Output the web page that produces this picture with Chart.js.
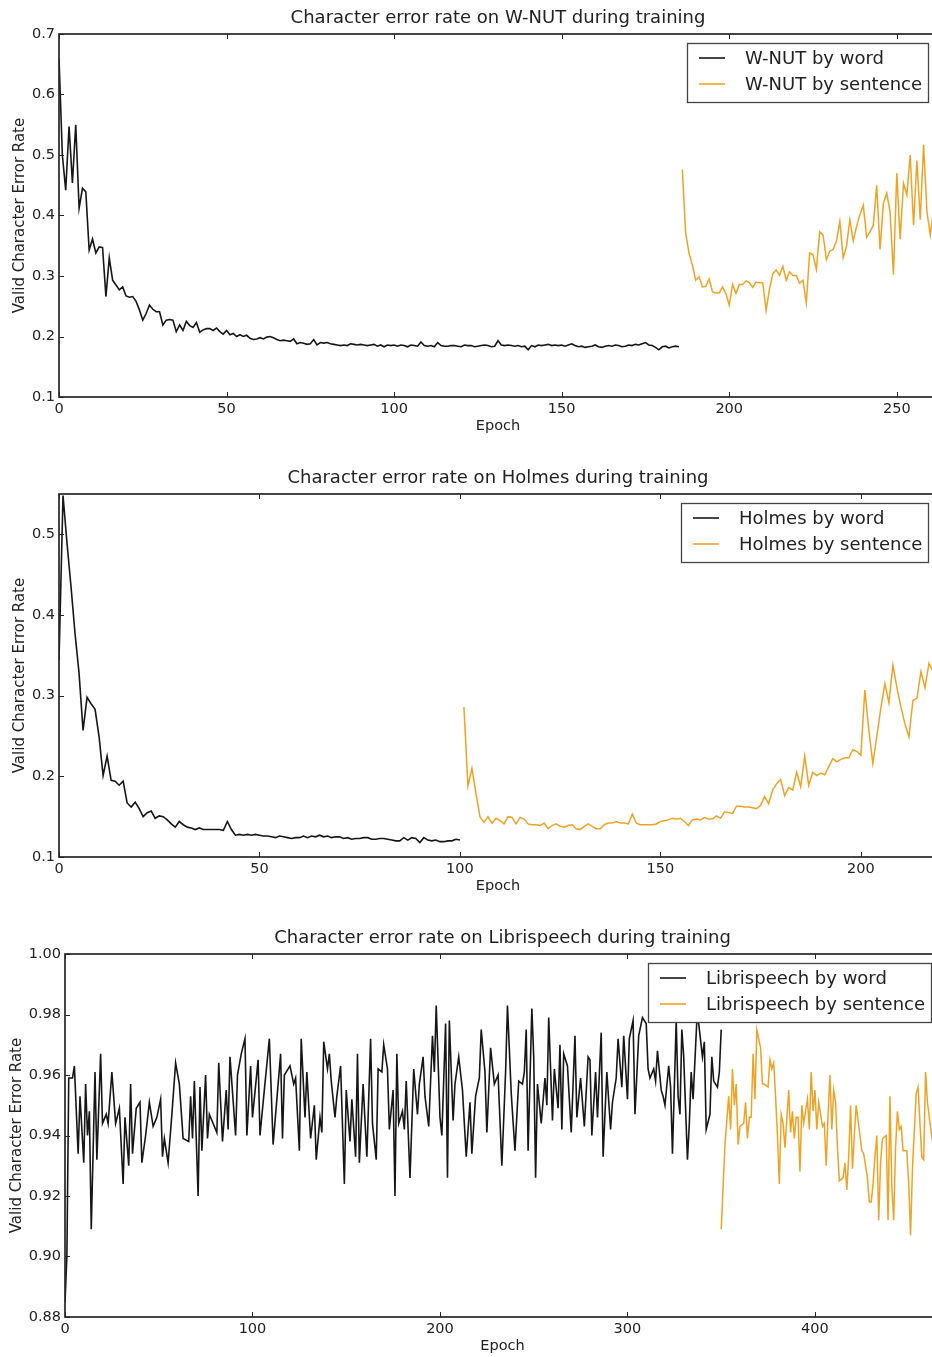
<!DOCTYPE html>
<html>
<head>
<meta charset="utf-8">
<title>Character error rate during training</title>
<script src="https://cdn.jsdelivr.net/npm/chart.js@4.4.0/dist/chart.umd.min.js"></script>
<style>
body { margin: 0; background: #fff; }
#plots { width: 932px; height: 1357px; overflow: hidden; }
canvas { display: block; }
</style>
</head>
<body>
<div id="plots">
<canvas id="wnutChart" width="1000" height="460"></canvas>
<canvas id="holmesChart" width="1000" height="460"></canvas>
<canvas id="libriChart" width="1000" height="460"></canvas>
</div>
<script>
// ---- W-NUT: validation CER per epoch ----
var wnutWordStart = 0;
var wnutWordCer = [
  0.660, 0.500, 0.442, 0.547, 0.454, 0.550, 0.412, 0.445, 0.439, 0.343,
  0.361, 0.338, 0.348, 0.347, 0.266, 0.330, 0.293, 0.285, 0.277, 0.282,
  0.267, 0.265, 0.266, 0.258, 0.244, 0.227, 0.238, 0.252, 0.245, 0.241,
  0.241, 0.219, 0.227, 0.228, 0.227, 0.208, 0.219, 0.210, 0.225, 0.218,
  0.215, 0.223, 0.207, 0.211, 0.213, 0.213, 0.210, 0.214, 0.208, 0.204,
  0.210, 0.203, 0.205, 0.200, 0.203, 0.200, 0.202, 0.197, 0.195, 0.196,
  0.198, 0.196, 0.199, 0.200, 0.198, 0.195, 0.193, 0.194, 0.193, 0.192,
  0.196, 0.188, 0.190, 0.189, 0.187, 0.188, 0.195, 0.186, 0.190, 0.189,
  0.190, 0.188, 0.187, 0.186, 0.185, 0.186, 0.185, 0.188, 0.187, 0.186,
  0.187, 0.186, 0.185, 0.186, 0.187, 0.184, 0.186, 0.183, 0.186, 0.185,
  0.186, 0.184, 0.186, 0.185, 0.183, 0.186, 0.185, 0.184, 0.191, 0.185,
  0.184, 0.185, 0.183, 0.190, 0.185, 0.184, 0.184, 0.185, 0.185, 0.184,
  0.183, 0.186, 0.185, 0.185, 0.183, 0.184, 0.185, 0.186, 0.185, 0.183,
  0.184, 0.193, 0.186, 0.185, 0.186, 0.185, 0.184, 0.185, 0.183, 0.184,
  0.178, 0.185, 0.183, 0.186, 0.185, 0.186, 0.187, 0.185, 0.186, 0.185,
  0.186, 0.184, 0.186, 0.188, 0.185, 0.183, 0.184, 0.182, 0.183, 0.184,
  0.186, 0.183, 0.182, 0.184, 0.185, 0.184, 0.186, 0.185, 0.183, 0.184,
  0.186, 0.185, 0.187, 0.186, 0.188, 0.190, 0.186, 0.185, 0.182, 0.178,
  0.183, 0.184, 0.181, 0.183, 0.184, 0.183
];
var wnutSentStart = 186;
var wnutSentCer = [
  0.476, 0.371, 0.338, 0.318, 0.293, 0.299, 0.282, 0.283, 0.295, 0.274,
  0.272, 0.272, 0.282, 0.271, 0.252, 0.286, 0.271, 0.286, 0.286, 0.292,
  0.289, 0.281, 0.290, 0.289, 0.289, 0.243, 0.278, 0.304, 0.310, 0.301,
  0.316, 0.293, 0.307, 0.301, 0.301, 0.288, 0.293, 0.255, 0.338, 0.335,
  0.311, 0.373, 0.368, 0.327, 0.341, 0.344, 0.358, 0.390, 0.330, 0.349,
  0.393, 0.358, 0.382, 0.401, 0.417, 0.364, 0.373, 0.384, 0.450, 0.344,
  0.420, 0.437, 0.406, 0.302, 0.470, 0.361, 0.453, 0.434, 0.500, 0.384,
  0.491, 0.393, 0.517, 0.406, 0.368, 0.410, 0.390
];

// ---- Holmes ----
var holmesWordStart = 0;
var holmesWordCer = [
  0.344, 0.548, 0.489, 0.435, 0.377, 0.328, 0.257, 0.298, 0.290, 0.283,
  0.249, 0.201, 0.225, 0.195, 0.194, 0.189, 0.194, 0.167, 0.162, 0.168,
  0.160, 0.150, 0.155, 0.157, 0.148, 0.151, 0.150, 0.146, 0.141, 0.137,
  0.144, 0.140, 0.137, 0.136, 0.134, 0.136, 0.134, 0.134, 0.134, 0.134,
  0.134, 0.133, 0.144, 0.134, 0.127, 0.128, 0.127, 0.128, 0.127, 0.128,
  0.127, 0.126, 0.126, 0.125, 0.124, 0.126, 0.125, 0.124, 0.123, 0.124,
  0.124, 0.126, 0.124, 0.126, 0.125, 0.127, 0.125, 0.126, 0.124, 0.125,
  0.125, 0.123, 0.124, 0.122, 0.123, 0.123, 0.124, 0.124, 0.122, 0.122,
  0.123, 0.123, 0.122, 0.121, 0.120, 0.120, 0.124, 0.121, 0.124, 0.123,
  0.118, 0.124, 0.121, 0.120, 0.121, 0.119, 0.119, 0.120, 0.120, 0.122,
  0.121
];
var holmesSentStart = 101;
var holmesSentCer = [
  0.286, 0.188, 0.210, 0.179, 0.150, 0.143, 0.150, 0.142, 0.148, 0.145,
  0.141, 0.150, 0.149, 0.141, 0.149, 0.147, 0.141, 0.140, 0.140, 0.139,
  0.142, 0.135, 0.139, 0.141, 0.138, 0.137, 0.139, 0.140, 0.135, 0.134,
  0.138, 0.141, 0.138, 0.135, 0.135, 0.140, 0.142, 0.142, 0.144, 0.142,
  0.142, 0.141, 0.153, 0.142, 0.140, 0.140, 0.140, 0.140, 0.141, 0.144,
  0.145, 0.146, 0.148, 0.147, 0.148, 0.144, 0.139, 0.146, 0.147, 0.146,
  0.149, 0.147, 0.147, 0.151, 0.148, 0.156, 0.155, 0.154, 0.163, 0.163,
  0.162, 0.162, 0.161, 0.160, 0.164, 0.175, 0.166, 0.183, 0.191, 0.196,
  0.176, 0.186, 0.183, 0.205, 0.187, 0.225, 0.189, 0.205, 0.201, 0.204,
  0.202, 0.212, 0.222, 0.218, 0.221, 0.223, 0.223, 0.233, 0.231, 0.226,
  0.307, 0.257, 0.216, 0.250, 0.285, 0.315, 0.291, 0.338, 0.310, 0.286,
  0.265, 0.249, 0.294, 0.297, 0.330, 0.310, 0.340, 0.330, 0.335
];

// ---- Librispeech (epoch, CER) ----
var libriWordEpoch = [
  0, 1, 2, 4, 5, 7, 8, 10, 11, 12,
  13, 14, 16, 17, 19, 20, 22, 23, 25, 27,
  29, 31, 32, 34, 35, 36, 38, 40, 41, 43,
  45, 47, 49, 51, 52, 53, 55, 57, 59, 61,
  63, 66, 67, 68, 69, 71, 72, 73, 75, 76,
  77, 81, 82, 84, 86, 87, 88, 91, 92, 94,
  96, 97, 99, 100, 103, 104, 106, 109, 111, 115,
  116, 117, 120, 122, 123, 125, 126, 128, 129, 131,
  133, 134, 136, 137, 138, 140, 141, 142, 144, 145,
  147, 149, 150, 152, 153, 155, 156, 157, 159, 161,
  163, 164, 166, 167, 169, 170, 172, 173, 175, 176,
  177, 178, 180, 181, 182, 184, 186, 188, 189, 191,
  192, 194, 196, 197, 198, 200, 201, 203, 204, 205,
  207, 208, 210, 212, 214, 216, 217, 219, 221, 222,
  224, 225, 227, 229, 231, 233, 235, 236, 238, 240,
  242, 244, 245, 246, 247, 249, 250, 251, 252, 254,
  256, 257, 258, 260, 261, 263, 264, 265, 266, 268,
  269, 270, 272, 273, 275, 277, 279, 280, 281, 283,
  284, 286, 287, 289, 291, 292, 294, 295, 297, 298,
  300, 301, 303, 304, 306, 308, 310, 311, 312, 314,
  315, 316, 318, 319, 320, 322, 323, 324, 326, 327,
  328, 329, 330, 332, 333, 334, 335, 337, 338, 340,
  341, 342, 344, 345, 346, 348, 349, 350
];
var libriWordCer = [
  0.885, 0.900, 0.959, 0.959, 0.963, 0.934, 0.953, 0.931, 0.957, 0.940,
  0.948, 0.909, 0.961, 0.932, 0.967, 0.944, 0.947, 0.944, 0.961, 0.944,
  0.949, 0.924, 0.946, 0.930, 0.957, 0.934, 0.949, 0.951, 0.931, 0.940,
  0.951, 0.943, 0.946, 0.952, 0.933, 0.939, 0.931, 0.947, 0.964, 0.957,
  0.939, 0.938, 0.953, 0.939, 0.958, 0.920, 0.956, 0.935, 0.960, 0.939,
  0.947, 0.941, 0.964, 0.938, 0.955, 0.942, 0.966, 0.940, 0.960, 0.967,
  0.972, 0.940, 0.963, 0.946, 0.965, 0.940, 0.953, 0.972, 0.937, 0.967,
  0.939, 0.960, 0.963, 0.957, 0.959, 0.935, 0.972, 0.946, 0.961, 0.939,
  0.950, 0.932, 0.946, 0.941, 0.971, 0.962, 0.967, 0.958, 0.946, 0.953,
  0.963, 0.924, 0.955, 0.938, 0.952, 0.933, 0.967, 0.931, 0.957, 0.933,
  0.972, 0.944, 0.932, 0.962, 0.961, 0.970, 0.962, 0.942, 0.955, 0.920,
  0.967, 0.944, 0.948, 0.942, 0.958, 0.926, 0.962, 0.947, 0.957, 0.966,
  0.953, 0.943, 0.973, 0.961, 0.983, 0.946, 0.940, 0.977, 0.926, 0.978,
  0.945, 0.957, 0.966, 0.955, 0.933, 0.951, 0.934, 0.953, 0.959, 0.975,
  0.961, 0.941, 0.969, 0.957, 0.960, 0.930, 0.961, 0.983, 0.954, 0.935,
  0.958, 0.957, 0.961, 0.975, 0.935, 0.982, 0.966, 0.926, 0.957, 0.944,
  0.959, 0.950, 0.979, 0.945, 0.962, 0.949, 0.970, 0.942, 0.967, 0.963,
  0.952, 0.941, 0.973, 0.946, 0.959, 0.943, 0.966, 0.965, 0.940, 0.961,
  0.946, 0.974, 0.933, 0.961, 0.942, 0.951, 0.959, 0.972, 0.956, 0.973,
  0.952, 0.972, 0.978, 0.947, 0.973, 0.979, 0.977, 0.962, 0.959, 0.962,
  0.958, 0.968, 0.955, 0.953, 0.950, 0.963, 0.956, 0.934, 0.978, 0.953,
  0.947, 0.975, 0.966, 0.932, 0.944, 0.961, 0.952, 0.978, 0.977, 0.966,
  0.971, 0.942, 0.947, 0.966, 0.958, 0.956, 0.961, 0.975
];
var libriSentEpoch = [
  350, 352, 354, 355, 356, 357, 358, 359, 360, 362,
  363, 364, 365, 366, 367, 368, 369, 371, 372, 373,
  375, 376, 377, 378, 379, 380, 381, 382, 383, 384,
  386, 387, 388, 389, 390, 391, 392, 393, 394, 396,
  397, 398, 399, 400, 401, 402, 404, 405, 406, 407,
  408, 409, 410, 411, 412, 413, 415, 416, 417, 418,
  419, 420, 421, 422, 424, 425, 426, 428, 429, 430,
  431, 432, 433, 434, 435, 436, 438, 439, 440, 441,
  442, 443, 444, 445, 446, 447, 448, 449, 450, 451,
  452, 454, 455, 456, 457, 458, 459, 460, 462, 463,
  465
];
var libriSentCer = [
  0.909, 0.937, 0.953, 0.942, 0.962, 0.950, 0.957, 0.937, 0.943, 0.944,
  0.951, 0.939, 0.946, 0.946, 0.967, 0.952, 0.975, 0.969, 0.957, 0.957,
  0.956, 0.965, 0.962, 0.964, 0.953, 0.940, 0.924, 0.947, 0.944, 0.936,
  0.955, 0.941, 0.948, 0.939, 0.946, 0.946, 0.928, 0.950, 0.944, 0.952,
  0.942, 0.961, 0.948, 0.955, 0.942, 0.951, 0.943, 0.944, 0.930, 0.947,
  0.960, 0.942, 0.955, 0.951, 0.936, 0.925, 0.926, 0.931, 0.922, 0.933,
  0.950, 0.929, 0.940, 0.950, 0.940, 0.935, 0.934, 0.926, 0.918, 0.918,
  0.924, 0.933, 0.940, 0.912, 0.931, 0.939, 0.940, 0.912, 0.953, 0.923,
  0.912, 0.936, 0.948, 0.942, 0.943, 0.935, 0.935, 0.935, 0.924, 0.907,
  0.929, 0.954, 0.956, 0.944, 0.933, 0.932, 0.961, 0.951, 0.941, 0.937,
  0.935
];

var FONT = '"DejaVu Sans", "Liberation Sans", sans-serif';
var TEXT_COLOR = '#222';
var WORD_COLOR = '#161616';
var SENT_COLOR = '#efa325';

Chart.defaults.font.family = FONT;
Chart.defaults.color = TEXT_COLOR;

function byEpoch(start, values) {
  return values.map(function (v, i) { return { x: start + i, y: v }; });
}

function zipEpochs(epochs, values) {
  return epochs.map(function (e, i) { return { x: e, y: values[i] }; });
}

// box round the plot area, with short inward ticks on all four sides
var axesFrame = {
  id: 'axesFrame',
  afterDatasetsDraw: function (chart) {
    var ctx = chart.ctx, a = chart.chartArea;
    var xs = chart.scales.x, ys = chart.scales.y;
    ctx.save();
    ctx.strokeStyle = '#262626';
    ctx.lineWidth = 1;
    ctx.beginPath();
    xs.ticks.forEach(function (t) {
      var px = Math.round(xs.getPixelForValue(t.value)) + 0.5;
      ctx.moveTo(px, a.bottom); ctx.lineTo(px, a.bottom - 5);
      ctx.moveTo(px, a.top); ctx.lineTo(px, a.top + 5);
    });
    ys.ticks.forEach(function (t) {
      var py = Math.round(ys.getPixelForValue(t.value)) + 0.5;
      ctx.moveTo(a.left, py); ctx.lineTo(a.left + 5, py);
      ctx.moveTo(a.right, py); ctx.lineTo(a.right - 5, py);
    });
    ctx.stroke();
    ctx.lineWidth = 1.7;
    ctx.strokeRect(a.left, a.top, a.right - a.left, a.bottom - a.top);
    ctx.restore();
  }
};

// framed legend sitting inside the upper right corner of the plot
var boxLegend = {
  id: 'boxLegend',
  afterDraw: function (chart) {
    var ctx = chart.ctx, a = chart.chartArea;
    var sets = chart.data.datasets;
    ctx.save();
    ctx.font = '18px ' + FONT;
    var textW = 0;
    sets.forEach(function (d) { textW = Math.max(textW, ctx.measureText(d.label).width); });
    var w = Math.round(12 + 26 + 20 + textW + 6);
    var h = 59;
    var x = Math.round(a.right - 9 - w), y = Math.round(a.top + 9);
    ctx.fillStyle = '#fff';
    ctx.fillRect(x, y, w, h);
    ctx.strokeStyle = '#444';
    ctx.lineWidth = 1.3;
    ctx.strokeRect(x + 0.5, y + 0.5, w, h);
    sets.forEach(function (d, i) {
      var cy = y + 15 + i * 26;
      ctx.strokeStyle = d.borderColor;
      ctx.lineWidth = 1.6;
      ctx.beginPath();
      ctx.moveTo(x + 12, cy);
      ctx.lineTo(x + 38, cy);
      ctx.stroke();
      ctx.fillStyle = TEXT_COLOR;
      ctx.textBaseline = 'middle';
      ctx.fillText(d.label, x + 58, cy + 1);
    });
    ctx.restore();
  }
};

function makeChart(id, p) {
  return new Chart(document.getElementById(id), {
    type: 'line',
    data: {
      datasets: [
        { label: p.names[0], data: p.word, borderColor: WORD_COLOR, borderWidth: 1.6, pointRadius: 0, tension: 0 },
        { label: p.names[1], data: p.sent, borderColor: SENT_COLOR, borderWidth: 1.5, pointRadius: 0, tension: 0 }
      ]
    },
    options: {
      responsive: false,
      animation: false,
      events: [],
      layout: { padding: { left: 0, right: 1000 - p.right, top: 0, bottom: 0 } },
      plugins: {
        legend: { display: false },
        tooltip: { enabled: false },
        title: {
          display: true,
          fullSize: false,
          text: p.title,
          color: TEXT_COLOR,
          font: { size: 18, weight: 'normal' },
          padding: { top: 8, bottom: 4.4 }
        }
      },
      scales: {
        x: {
          type: 'linear',
          min: 0,
          max: p.xMax,
          grid: { display: false, drawTicks: false },
          border: { display: false },
          ticks: { stepSize: p.xStep, includeBounds: false, autoSkip: false, maxRotation: 0, padding: 4, font: { size: 14.5 } },
          title: { display: true, text: 'Epoch', font: { size: 14.5 }, padding: { top: 0, bottom: 25 } },
          afterFit: function (s) { s.height = 63; }
        },
        y: {
          min: p.yMin,
          max: p.yMax,
          grid: { display: false, drawTicks: false },
          border: { display: false },
          ticks: {
            stepSize: p.yStep,
            includeBounds: false,
            padding: 4,
            font: { size: 14.5 },
            callback: function (v) { return v.toFixed(p.yDigits); }
          },
          title: { display: true, text: 'Valid Character Error Rate', font: { size: 15 }, padding: { top: p.yTitlePad, bottom: 0 } },
          afterFit: function (s) { s.width = p.left; }
        }
      }
    },
    plugins: [axesFrame, boxLegend]
  });
}

makeChart('wnutChart', {
  title: 'Character error rate on W-NUT during training',
  names: ['W-NUT by word', 'W-NUT by sentence'],
  word: byEpoch(wnutWordStart, wnutWordCer),
  sent: byEpoch(wnutSentStart, wnutSentCer),
  xMax: 262, xStep: 50,
  yMin: 0.1, yMax: 0.7, yStep: 0.1, yDigits: 1,
  left: 59, right: 937, yTitlePad: 11
});

makeChart('holmesChart', {
  title: 'Character error rate on Holmes during training',
  names: ['Holmes by word', 'Holmes by sentence'],
  word: byEpoch(holmesWordStart, holmesWordCer),
  sent: byEpoch(holmesSentStart, holmesSentCer),
  xMax: 219, xStep: 50,
  yMin: 0.1, yMax: 0.55, yStep: 0.1, yDigits: 1,
  left: 59, right: 937, yTitlePad: 11
});

makeChart('libriChart', {
  title: 'Character error rate on Librispeech during training',
  names: ['Librispeech by word', 'Librispeech by sentence'],
  word: zipEpochs(libriWordEpoch, libriWordCer),
  sent: zipEpochs(libriSentEpoch, libriSentCer),
  xMax: 466.7, xStep: 100,
  yMin: 0.88, yMax: 1.0, yStep: 0.02, yDigits: 2,
  left: 65, right: 940, yTitlePad: 8
});
</script>
</body>
</html>
